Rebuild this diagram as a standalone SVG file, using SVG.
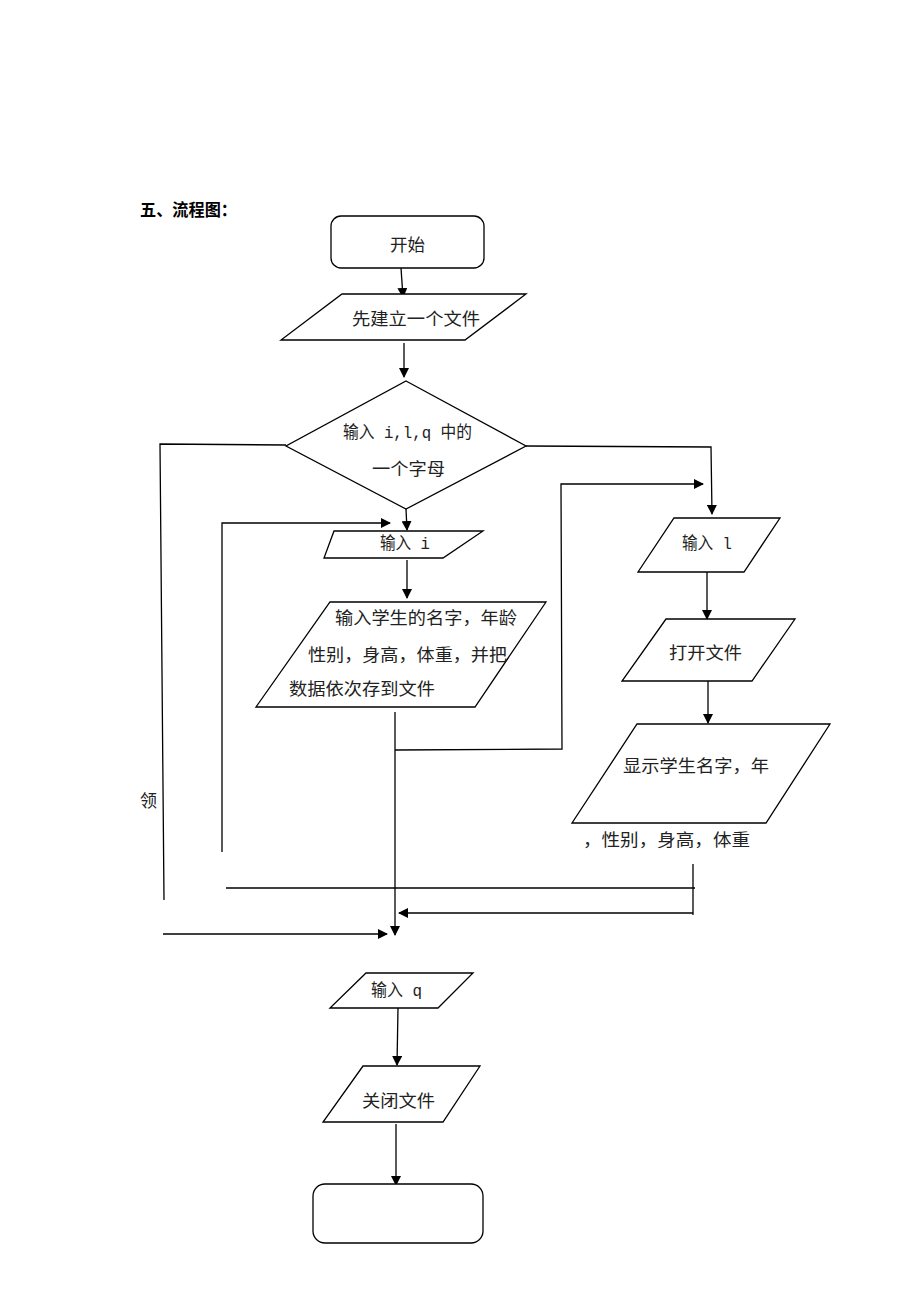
<svg xmlns="http://www.w3.org/2000/svg" width="920" height="1302" viewBox="0 0 920 1302">
<defs>
<marker id="ah" markerWidth="10" markerHeight="10" refX="9" refY="5" orient="auto" markerUnits="userSpaceOnUse">
<path d="M0,0 L10,5 L0,10 Z" fill="#000"/>
</marker>
<style>
.s{fill:#fff;stroke:#000;stroke-width:1.3}
.c{fill:none;stroke:#000;stroke-width:1.3}
.a{fill:none;stroke:#000;stroke-width:1.3;marker-end:url(#ah)}
.t{font-family:"Liberation Serif","Noto Sans CJK SC",serif;font-size:17px;fill:#222}
.m{font-family:"Liberation Mono","Noto Sans CJK SC",monospace;font-size:17px;fill:#222}
.h{font-family:"Noto Sans CJK SC",sans-serif;font-size:17px;font-weight:bold;fill:#000}
</style>
</defs>
<rect width="920" height="1302" fill="#fff"/>
<text class="h" x="140" y="216" textLength="97" lengthAdjust="spacingAndGlyphs">五、流程图：</text>

<g id="connectors">
<line class="a" x1="401" y1="268" x2="403" y2="297"/>
<line class="a" x1="404" y1="343" x2="404" y2="377"/>
<line class="a" x1="406" y1="509" x2="407" y2="530"/>
<line class="a" x1="407" y1="560" x2="407" y2="598"/>
<polyline class="a" points="526,446 711,447 712,514"/>
<line class="a" x1="707" y1="572" x2="707" y2="619"/>
<line class="a" x1="708" y1="681" x2="708" y2="723"/>
<polyline class="c" points="286,445 160,444 164,900"/>
<polyline class="a" points="222,852 222,523 390,523"/>
<polyline class="a" points="395,750 562,749 561,484 703,484"/>
<line class="a" x1="395" y1="712" x2="395" y2="935"/>
<line class="c" x1="226" y1="888" x2="695" y2="888"/>
<line class="c" x1="693" y1="864" x2="693" y2="915"/>
<line class="a" x1="693" y1="913" x2="399" y2="913"/>
<line class="a" x1="163" y1="934" x2="387" y2="934"/>
<line class="a" x1="398" y1="1008" x2="397" y2="1065"/>
<line class="a" x1="396" y1="1124" x2="396" y2="1185"/>
</g>

<g id="start">
<rect class="s" x="331" y="216" width="153" height="52" rx="10"/>
<text class="t" x="390" y="251" textLength="35" lengthAdjust="spacingAndGlyphs">开始</text>
</g>
<g id="create">
<polygon class="s" points="342,294 526,294 465,340 281,340"/>
<text class="t" x="352" y="325" textLength="128" lengthAdjust="spacingAndGlyphs">先建立一个文件</text>
</g>
<g id="decision">
<polygon class="s" points="406,381 526,446 406,509 286,446"/>
<text class="m" x="343" y="438" textLength="129" lengthAdjust="spacingAndGlyphs">输入 i,l,q 中的</text>
<text class="t" x="372" y="475" textLength="73" lengthAdjust="spacingAndGlyphs">一个字母</text>
</g>
<g id="input-i">
<polygon class="s" points="334,531 483,531 443,558 324,558"/>
<text class="m" x="380" y="549" textLength="50" lengthAdjust="spacingAndGlyphs">输入 i</text>
</g>
<g id="enter-data">
<polygon class="s" points="330,602 546,602 475,707 256,707"/>
<text class="t" x="335" y="624" textLength="182" lengthAdjust="spacingAndGlyphs">输入学生的名字，年龄</text>
<text class="t" x="308" y="661" textLength="199" lengthAdjust="spacingAndGlyphs">性别，身高，体重，并把</text>
<text class="t" x="289" y="695" textLength="146" lengthAdjust="spacingAndGlyphs">数据依次存到文件</text>
</g>
<g id="input-l">
<polygon class="s" points="674,518 780,518 744,572 638,572"/>
<text class="m" x="682" y="549" textLength="50" lengthAdjust="spacingAndGlyphs">输入 l</text>
</g>
<g id="open-file">
<polygon class="s" points="666,619 795,619 752,681 622,681"/>
<text class="t" x="669" y="659" textLength="73" lengthAdjust="spacingAndGlyphs">打开文件</text>
</g>
<g id="display">
<polygon class="s" points="637,724 830,724 766,823 572,823"/>
<text class="t" x="623" y="772" textLength="146" lengthAdjust="spacingAndGlyphs">显示学生名字，年</text>
<text class="t" x="583" y="846" textLength="167" lengthAdjust="spacingAndGlyphs">，性别，身高，体重</text>
</g>
<g id="label-ling">
<text class="t" x="140" y="807">领</text>
</g>
<g id="input-q">
<polygon class="s" points="366,973 473,973 438,1008 330,1008"/>
<text class="m" x="371" y="996" textLength="51" lengthAdjust="spacingAndGlyphs">输入 q</text>
</g>
<g id="close-file">
<polygon class="s" points="363,1066 480,1066 443,1122 323,1122"/>
<text class="t" x="362" y="1107" textLength="73" lengthAdjust="spacingAndGlyphs">关闭文件</text>
</g>
<g id="end">
<rect class="s" x="313" y="1184" width="170" height="59" rx="12"/>
</g>
</svg>
